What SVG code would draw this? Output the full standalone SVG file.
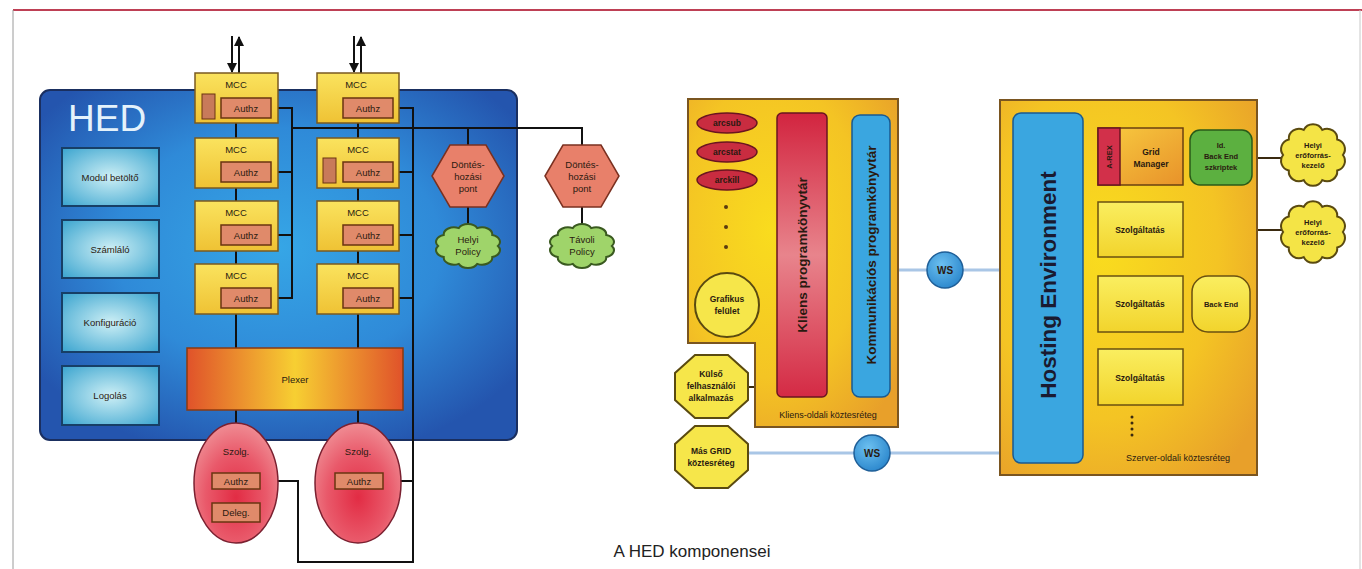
<svg xmlns="http://www.w3.org/2000/svg" width="1362" height="569" viewBox="0 0 1362 569">
<style>
text{font-family:"Liberation Sans",Arial,sans-serif;fill:#2a1a10;text-anchor:middle}
.lbl{font-size:9.5px}
.b{font-weight:bold}
.sm{font-size:8.5px;font-weight:bold}
.ln{stroke:#111;stroke-width:2;fill:none}
.lr{stroke:#3a2a10;stroke-width:2;fill:none}
.ws{stroke:#a9c6e6;stroke-width:3;fill:none}
.mcc{fill:url(#mccG);stroke:#7a5a20;stroke-width:1.5}
.authz{fill:#e08a6a;stroke:#6a3510;stroke-width:1.5}
.lbox{fill:url(#lbG);stroke:#173f66;stroke-width:2}
.ybox{fill:url(#yG);stroke:#6a5010;stroke-width:1.5}
.cloudY{fill:#f4e446;stroke:#5a4a10;stroke-width:2}
.cloudG{fill:#9fd46a;stroke:#3a5a20;stroke-width:2}
</style>
<defs>
<radialGradient id="hedG" cx="0.5" cy="0.45" r="0.62">
<stop offset="0" stop-color="#36a6e6"/><stop offset="0.55" stop-color="#2f8ad8"/><stop offset="1" stop-color="#2455ae"/>
</radialGradient>
<radialGradient id="lbG" cx="0.5" cy="0.5" r="0.7">
<stop offset="0" stop-color="#cdeff5"/><stop offset="1" stop-color="#3aa4cf"/>
</radialGradient>
<linearGradient id="mccG" x1="0" y1="0" x2="0" y2="1">
<stop offset="0" stop-color="#fae35e"/><stop offset="1" stop-color="#efc234"/>
</linearGradient>
<linearGradient id="plexG" x1="0" y1="0" x2="1" y2="0">
<stop offset="0" stop-color="#e0522a"/><stop offset="0.5" stop-color="#f7cf32"/><stop offset="1" stop-color="#e0522a"/>
</linearGradient>
<radialGradient id="szG" cx="0.5" cy="0.62" r="0.6">
<stop offset="0" stop-color="#e22c44"/><stop offset="0.6" stop-color="#e9596a"/><stop offset="1" stop-color="#ef8890"/>
</radialGradient>
<radialGradient id="orG" cx="0.4" cy="0.4" r="0.75">
<stop offset="0" stop-color="#f9dc1e"/><stop offset="0.6" stop-color="#f4c424"/><stop offset="1" stop-color="#e8a02a"/>
</radialGradient>
<linearGradient id="redG" x1="0" y1="0" x2="0" y2="1">
<stop offset="0" stop-color="#d2243f"/><stop offset="0.5" stop-color="#e8848c"/><stop offset="1" stop-color="#d42a44"/>
</linearGradient>
<linearGradient id="gmG" x1="0" y1="0" x2="1" y2="1">
<stop offset="0" stop-color="#f8cc40"/><stop offset="1" stop-color="#e8922a"/>
</linearGradient>
<linearGradient id="yG" x1="0" y1="0" x2="0" y2="1">
<stop offset="0" stop-color="#faee60"/><stop offset="1" stop-color="#f2d42c"/>
</linearGradient>
<radialGradient id="wsG" cx="0.4" cy="0.35" r="0.7">
<stop offset="0" stop-color="#6cc0f0"/><stop offset="1" stop-color="#2a86cc"/>
</radialGradient>
<path id="cloud" d="M44,0 A15,15 0 0 1 35.6,23.5 A15,15 0 0 1 13.6,38 A15,15 0 0 1 -13.6,38 A15,15 0 0 1 -35.6,23.5 A15,15 0 0 1 -44,0 A15,15 0 0 1 -35.6,-23.5 A15,15 0 0 1 -13.6,-38 A15,15 0 0 1 13.6,-38 A15,15 0 0 1 35.6,-23.5 A15,15 0 0 1 44,0 Z" vector-effect="non-scaling-stroke"/>
<marker id="arr" viewBox="0 0 10 10" refX="9" refY="5" markerWidth="5" markerHeight="5" orient="auto"><path d="M0,0 L10,5 L0,10 Z" fill="#111"/></marker>
</defs>

<g id="frame">
<line x1="13" y1="10" x2="1362" y2="10" stroke="#a8001c" stroke-width="1.5"/>
<line x1="13" y1="10" x2="13" y2="569" stroke="#9a9a9a" stroke-width="1"/>
<line x1="1360" y1="10" x2="1360" y2="569" stroke="#c8c8c8" stroke-width="1"/>
</g>

<g id="hed">
<rect x="40" y="90" width="477" height="350" rx="10" fill="url(#hedG)" stroke="#1a2f60" stroke-width="2"/>
<text x="68" y="131" style="font-size:37px;fill:#e4f2fb;text-anchor:start">HED</text>
</g>

<g id="modul"><rect class="lbox" x="62" y="148" width="97" height="58"/><text class="lbl" x="110" y="181">Modul betöltő</text></g>
<g id="szamlalo"><rect class="lbox" x="62" y="220" width="97" height="58"/><text class="lbl" x="110" y="253">Számláló</text></g>
<g id="konfig"><rect class="lbox" x="62" y="293" width="97" height="59"/><text class="lbl" x="110" y="326">Konfiguráció</text></g>
<g id="logolas"><rect class="lbox" x="62" y="366" width="97" height="59"/><text class="lbl" x="110" y="399">Logolás</text></g>

<g id="connectors">
<line class="ln" x1="232" y1="36" x2="232" y2="72" marker-end="url(#arr)"/>
<line class="ln" x1="239" y1="73" x2="239" y2="37" marker-end="url(#arr)"/>
<line class="ln" x1="354" y1="36" x2="354" y2="72" marker-end="url(#arr)"/>
<line class="ln" x1="361" y1="73" x2="361" y2="37" marker-end="url(#arr)"/>
<line class="ln" x1="236" y1="123" x2="236" y2="348"/>
<line class="ln" x1="358" y1="123" x2="358" y2="348"/>
<polyline class="ln" points="271,108 292,108 292,298 271,298"/>
<line class="ln" x1="271" y1="172" x2="292" y2="172"/>
<line class="ln" x1="271" y1="235" x2="292" y2="235"/>
<polyline class="ln" points="292,128 582,128 582,146"/>
<line class="ln" x1="468" y1="128" x2="468" y2="146"/>
<polyline class="ln" points="393,108 413,108 413,562 298,562 298,481 260,481"/>
<line class="ln" x1="393" y1="172" x2="413" y2="172"/>
<line class="ln" x1="393" y1="235" x2="413" y2="235"/>
<line class="ln" x1="393" y1="298" x2="413" y2="298"/>
<line class="ln" x1="383" y1="481" x2="413" y2="481"/>
<line class="ln" x1="468" y1="206" x2="468" y2="226"/>
<line class="ln" x1="582" y1="206" x2="582" y2="226"/>
<line class="ln" x1="236" y1="410" x2="236" y2="424"/>
<line class="ln" x1="358" y1="410" x2="358" y2="424"/>
<line class="ln" x1="236" y1="489" x2="236" y2="503"/>
<line class="lr" x1="757" y1="123" x2="777" y2="123"/>
<line class="lr" x1="757" y1="152" x2="777" y2="152"/>
<line class="lr" x1="757" y1="180" x2="777" y2="180"/>
<line class="lr" x1="759" y1="305" x2="777" y2="305"/>
<line class="lr" x1="748" y1="387" x2="777" y2="387"/>
<line class="lr" x1="827" y1="270" x2="852" y2="270"/>
<line class="ws" x1="890" y1="270" x2="1013" y2="270"/>
<line class="ws" x1="748" y1="453" x2="1013" y2="453"/>
<line class="lr" x1="1083" y1="158" x2="1098" y2="158"/>
<line class="lr" x1="1183" y1="158" x2="1190" y2="158"/>
<line class="lr" x1="1252" y1="158" x2="1282" y2="158"/>
<line class="lr" x1="1083" y1="230" x2="1098" y2="230"/>
<line class="lr" x1="1183" y1="230" x2="1282" y2="230"/>
<line class="lr" x1="1083" y1="304" x2="1098" y2="304"/>
<line class="lr" x1="1183" y1="304" x2="1192" y2="304"/>
<line class="lr" x1="1083" y1="378" x2="1098" y2="378"/>
</g>

<g id="mcc1a"><rect class="mcc" x="195" y="73" width="83" height="50"/><text class="lbl" x="236" y="88">MCC</text><rect x="202" y="94" width="13" height="25" fill="#c87a5a" stroke="#6a3510"/><rect class="authz" x="221" y="98" width="50" height="20"/><text class="lbl" x="246" y="112">Authz</text></g>
<g id="mcc2a"><rect class="mcc" x="195" y="138" width="83" height="50"/><text class="lbl" x="236" y="153">MCC</text><rect class="authz" x="221" y="162" width="50" height="20"/><text class="lbl" x="246" y="176">Authz</text></g>
<g id="mcc3a"><rect class="mcc" x="195" y="201" width="83" height="50"/><text class="lbl" x="236" y="216">MCC</text><rect class="authz" x="221" y="225" width="50" height="20"/><text class="lbl" x="246" y="239">Authz</text></g>
<g id="mcc4a"><rect class="mcc" x="195" y="264" width="83" height="50"/><text class="lbl" x="236" y="279">MCC</text><rect class="authz" x="221" y="288" width="50" height="20"/><text class="lbl" x="246" y="302">Authz</text></g>
<g id="mcc1b"><rect class="mcc" x="317" y="73" width="82" height="50"/><text class="lbl" x="356" y="88">MCC</text><rect class="authz" x="343" y="98" width="50" height="20"/><text class="lbl" x="368" y="112">Authz</text></g>
<g id="mcc2b"><rect class="mcc" x="317" y="138" width="82" height="50"/><text class="lbl" x="358" y="153">MCC</text><rect x="323" y="158" width="13" height="25" fill="#c87a5a" stroke="#6a3510"/><rect class="authz" x="343" y="162" width="50" height="20"/><text class="lbl" x="368" y="176">Authz</text></g>
<g id="mcc3b"><rect class="mcc" x="317" y="201" width="82" height="50"/><text class="lbl" x="358" y="216">MCC</text><rect class="authz" x="343" y="225" width="50" height="20"/><text class="lbl" x="368" y="239">Authz</text></g>
<g id="mcc4b"><rect class="mcc" x="317" y="264" width="82" height="50"/><text class="lbl" x="358" y="279">MCC</text><rect class="authz" x="343" y="288" width="50" height="20"/><text class="lbl" x="368" y="302">Authz</text></g>

<g id="plexer"><rect x="187" y="348" width="216" height="62" fill="url(#plexG)" stroke="#8a3a10" stroke-width="1.5"/><text class="lbl" x="295" y="383">Plexer</text></g>

<g id="szolg1"><ellipse cx="236" cy="483" rx="42" ry="60" fill="url(#szG)" stroke="#7a2030" stroke-width="1.5"/><text class="lbl" x="236" y="455">Szolg.</text><rect class="authz" x="212" y="473" width="48" height="16"/><text class="lbl" x="236" y="485">Authz</text><rect class="authz" x="212" y="503" width="48" height="19"/><text class="lbl" x="236" y="516">Deleg.</text></g>
<g id="szolg2"><ellipse cx="358" cy="483" rx="43" ry="60" fill="url(#szG)" stroke="#7a2030" stroke-width="1.5"/><text class="lbl" x="358" y="455">Szolg.</text><rect class="authz" x="335" y="473" width="48" height="16"/><text class="lbl" x="359" y="485">Authz</text></g>

<g id="dontes1"><polygon points="432,176 450,145 486,145 504,176 486,207 450,207" fill="#e8806a" stroke="#7a3020" stroke-width="1.5"/><text class="lbl" x="468" y="168">Döntés-</text><text class="lbl" x="468" y="180">hozási</text><text class="lbl" x="468" y="192">pont</text></g>
<g id="dontes2"><polygon points="545,176 563,145 601,145 619,176 601,207 563,207" fill="#e8806a" stroke="#7a3020" stroke-width="1.5"/><text class="lbl" x="582" y="168">Döntés-</text><text class="lbl" x="582" y="180">hozási</text><text class="lbl" x="582" y="192">pont</text></g>
<g id="helyipolicy"><use href="#cloud" class="cloudG" transform="translate(468,246) scale(0.68,0.47)"/><text class="lbl" x="468" y="243">Helyi</text><text class="lbl" x="468" y="255">Policy</text></g>
<g id="tavolipolicy"><use href="#cloud" class="cloudG" transform="translate(582,246) scale(0.68,0.47)"/><text class="lbl" x="582" y="243">Távoli</text><text class="lbl" x="582" y="255">Policy</text></g>

<g id="kliens">
<polygon points="688,99 898,99 898,427 755,427 755,343 688,343" fill="url(#orG)" stroke="#7a5520" stroke-width="2"/>
<text class="lbl" x="828" y="418" style="font-size:9px">Kliens-oldali köztesréteg</text>
</g>
<g id="arcsub"><ellipse cx="727" cy="123" rx="30" ry="10" fill="#c92c40" stroke="#6a1520" stroke-width="1.5"/><text class="sm" x="727" y="126">arcsub</text></g>
<g id="arcstat"><ellipse cx="727" cy="152" rx="30" ry="10" fill="#c92c40" stroke="#6a1520" stroke-width="1.5"/><text class="sm" x="727" y="155">arcstat</text></g>
<g id="arckill"><ellipse cx="727" cy="180" rx="30" ry="10" fill="#c92c40" stroke="#6a1520" stroke-width="1.5"/><text class="sm" x="727" y="183">arckill</text></g>
<g id="dots1" fill="#5a3a10"><circle cx="726" cy="207" r="2"/><circle cx="726" cy="227" r="2"/><circle cx="726" cy="247" r="2"/></g>
<g id="grafikus"><circle cx="727" cy="305" r="32" fill="#f6e64a" stroke="#5a4a10" stroke-width="2"/><text class="sm" x="727" y="302">Grafikus</text><text class="sm" x="727" y="314">felület</text></g>
<g id="kliensprog"><rect x="777" y="113" width="50" height="284" rx="5" fill="url(#redG)" stroke="#6a1520" stroke-width="1.5"/><text class="b" transform="translate(807,255) rotate(-90)" style="font-size:13.5px">Kliens programkönyvtár</text></g>
<g id="kommprog"><rect x="852" y="115" width="38" height="282" rx="8" fill="#3aa6e0" stroke="#1a5a90" stroke-width="1.5"/><text class="b" transform="translate(876,255) rotate(-90)" style="font-size:13.5px">Kommunikációs programkönyvtár</text></g>
<g id="kulso"><polygon points="695,355 728,355 748,373 748,400 728,418 695,418 675,400 675,373" fill="#f6e64a" stroke="#5a4a10" stroke-width="2"/><text class="sm" x="711" y="377">Külső</text><text class="sm" x="711" y="389">felhasználói</text><text class="sm" x="711" y="401">alkalmazás</text></g>
<g id="masgrid"><polygon points="695,426 728,426 748,444 748,470 728,488 695,488 675,470 675,444" fill="#f6e64a" stroke="#5a4a10" stroke-width="2"/><text class="sm" x="711" y="454">Más GRID</text><text class="sm" x="711" y="466">köztesréteg</text></g>
<g id="ws1"><circle cx="945" cy="270" r="18" fill="url(#wsG)" stroke="#1f5f98" stroke-width="1.5"/><text class="b" x="945" y="274" style="font-size:10px">WS</text></g>
<g id="ws2"><circle cx="872" cy="453" r="18" fill="url(#wsG)" stroke="#1f5f98" stroke-width="1.5"/><text class="b" x="872" y="457" style="font-size:10px">WS</text></g>

<g id="szerver">
<rect x="1000" y="100" width="257" height="375" fill="url(#orG)" stroke="#7a5520" stroke-width="2"/>
<text class="lbl" x="1178" y="461" style="font-size:9px">Szerver-oldali köztesréteg</text>
</g>
<g id="hosting"><rect x="1013" y="113" width="70" height="350" rx="8" fill="#3aa6e0" stroke="#1a5a90" stroke-width="1.5"/><text class="b" transform="translate(1056,285) rotate(-90)" style="font-size:22.5px;fill:#1a1a30">Hosting Environment</text></g>
<g id="gridmanager"><rect x="1098" y="128" width="85" height="57" fill="url(#gmG)" stroke="#6a4010" stroke-width="1.5"/><rect x="1098" y="128" width="22" height="57" fill="#d2304a" stroke="#6a1520" stroke-width="1.5"/><text class="sm" transform="translate(1112,157) rotate(-90)" style="font-size:7.5px">A-REX</text><text class="sm" x="1151" y="155">Grid</text><text class="sm" x="1151" y="167">Manager</text></g>
<g id="backend1"><rect x="1190" y="130" width="62" height="55" rx="10" fill="#5cb040" stroke="#2a5a18" stroke-width="1.5"/><text class="sm" x="1221" y="148" style="font-size:7.5px">Id.</text><text class="sm" x="1221" y="159" style="font-size:7.5px">Back End</text><text class="sm" x="1221" y="170" style="font-size:7.5px">szkriptek</text></g>
<g id="helyi1"><use href="#cloud" class="cloudY" transform="translate(1313,155) scale(0.68,0.66)"/><text class="sm" x="1313" y="148" style="font-size:7.5px">Helyi</text><text class="sm" x="1313" y="158" style="font-size:7.5px">erőforrás-</text><text class="sm" x="1313" y="168" style="font-size:7.5px">kezelő</text></g>
<g id="szolgaltatas1"><rect class="ybox" x="1098" y="202" width="85" height="55"/><text class="sm" x="1140" y="233">Szolgáltatás</text></g>
<g id="helyi2"><use href="#cloud" class="cloudY" transform="translate(1313,232) scale(0.68,0.66)"/><text class="sm" x="1313" y="225" style="font-size:7.5px">Helyi</text><text class="sm" x="1313" y="235" style="font-size:7.5px">erőforrás-</text><text class="sm" x="1313" y="245" style="font-size:7.5px">kezelő</text></g>
<g id="szolgaltatas2"><rect class="ybox" x="1098" y="276" width="85" height="56"/><text class="sm" x="1140" y="307">Szolgáltatás</text></g>
<g id="backend2"><rect class="ybox" x="1192" y="276" width="58" height="56" rx="16"/><text class="sm" x="1221" y="307" style="font-size:7.5px">Back End</text></g>
<g id="szolgaltatas3"><rect class="ybox" x="1098" y="349" width="85" height="56"/><text class="sm" x="1140" y="381">Szolgáltatás</text></g>
<g id="dots2" fill="#3a2a10"><circle cx="1132" cy="417" r="1.5"/><circle cx="1132" cy="423" r="1.5"/><circle cx="1132" cy="429" r="1.5"/><circle cx="1132" cy="435" r="1.5"/></g>

<text x="692" y="557" style="font-size:17px;fill:#222">A HED komponensei</text>
</svg>
